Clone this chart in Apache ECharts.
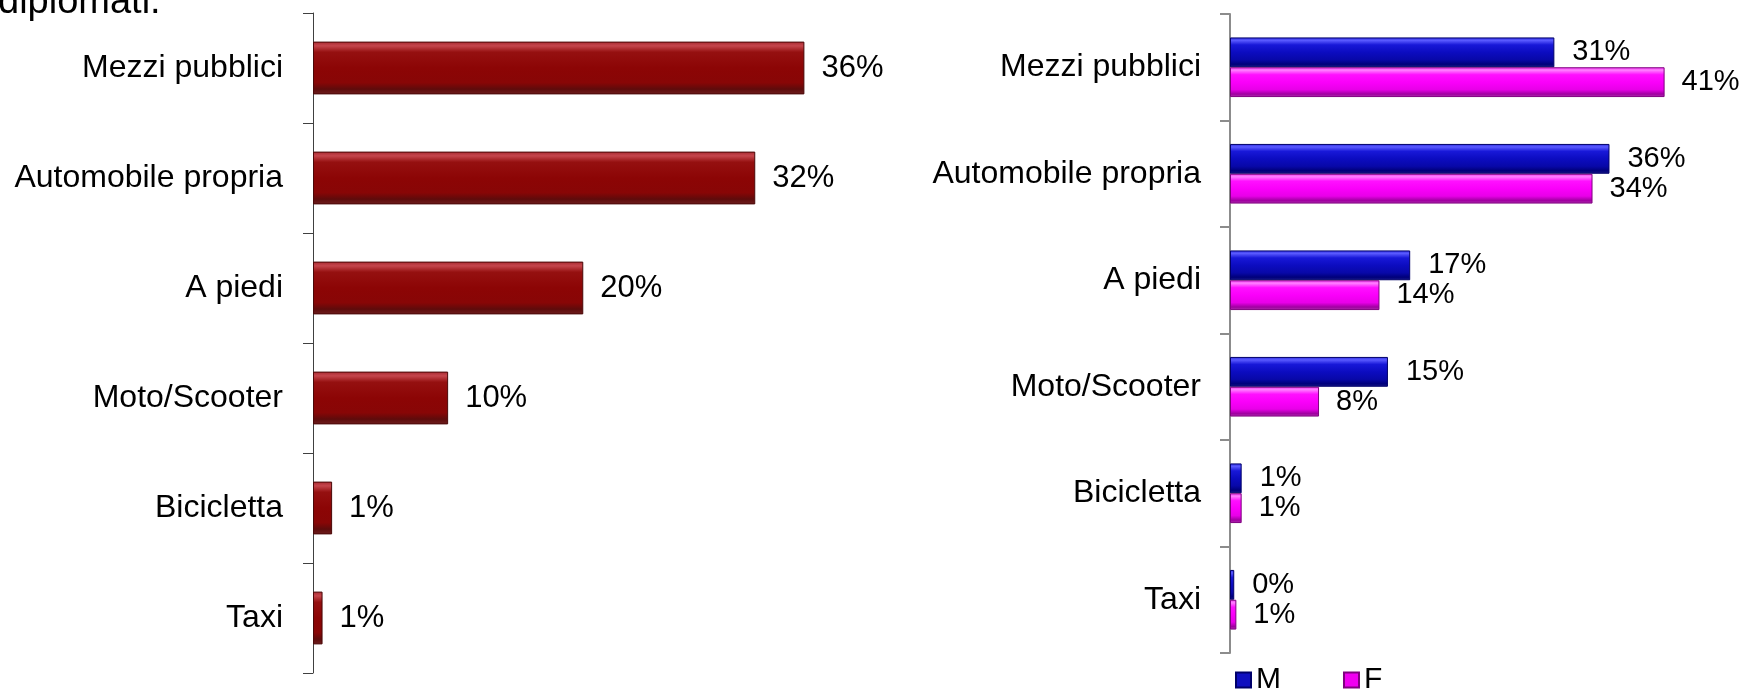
<!DOCTYPE html>
<html>
<head>
<meta charset="utf-8">
<script src="https://cdn.jsdelivr.net/npm/echarts@6/dist/echarts.min.js"></script>
<style>
html,body{margin:0;padding:0;background:#fff;}
#main{width:1744px;height:689px;}
</style>
</head>
<body>
<div id="main"></div>
<script>
// ---- data ----
var categories = ['Mezzi pubblici', 'Automobile propria', 'A piedi', 'Moto/Scooter', 'Bicicletta', 'Taxi'];
var totale = [36.0, 32.4, 19.8, 9.9, 1.4, 0.7];
var maschi = [30.6, 35.8, 17.0, 14.9, 1.1, 0.4];
var femmine = [41.0, 34.2, 14.1, 8.4, 1.1, 0.6];
var seriesNames = ['M', 'F'];
var titleText = 'diplomati.';

var FONT = "'Liberation Sans', Arial, sans-serif";

function grad(stops) {
  return new echarts.graphic.LinearGradient(0, 0, 0, 1, stops.map(function (s) {
    return { offset: s[0], color: s[1] };
  }));
}
var redFill = grad([[0, '#a82a30'], [0.08, '#c5454c'], [0.2, '#951010'], [0.5, '#8c0505'], [0.78, '#880606'], [0.9, '#5e0b0b'], [1, '#6e1e1e']]);
var blueFill = grad([[0, '#2a2ae0'], [0.1, '#5a5aff'], [0.25, '#1818d8'], [0.5, '#0c0cc0'], [0.75, '#0808a8'], [0.9, '#00007a'], [1, '#1a1a8a']]);
var pinkFill = grad([[0, '#f030f0'], [0.1, '#ff80ff'], [0.25, '#ff10ff'], [0.5, '#fa00fa'], [0.75, '#e800e8'], [0.9, '#a000a0'], [1, '#b030b0']]);

function pct(p) { return Math.round(p.value) + '%'; }

var option = {
  animation: false,
  backgroundColor: '#ffffff',
  textStyle: { fontFamily: FONT },
  graphic: [{
    type: 'text', left: -2, top: -16,
    style: { text: titleText, font: '38px ' + FONT, fill: '#000' }
  }],
  legend: {
    data: seriesNames.map(function (n, i) { return { name: n, icon: 'rect', itemStyle: { color: i === 0 ? '#1010c0' : '#f000f0' } }; }),
    left: 1230, top: 660,
    itemWidth: 15, itemHeight: 15, itemGap: 62,
    textStyle: { fontSize: 30, color: '#000', fontFamily: FONT }
  },
  grid: [
    { left: 313, top: 13, width: 546, height: 660 },
    { left: 1230, top: 14, width: 477, height: 639 }
  ],
  xAxis: [
    { gridIndex: 0, type: 'value', min: 0, max: 40, show: false },
    { gridIndex: 1, type: 'value', min: 0, max: 45, show: false }
  ],
  yAxis: [
    {
      gridIndex: 0, type: 'category', data: categories, inverse: true,
      axisLine: { show: true, lineStyle: { color: '#404040', width: 1 } },
      axisTick: { show: true, length: 10, lineStyle: { color: '#404040' } },
      axisLabel: { fontSize: 32, color: '#000', margin: 30, fontFamily: FONT, padding: [5, 0, 0, 0] },
      splitLine: { show: false }
    },
    {
      gridIndex: 1, type: 'category', data: categories, inverse: true,
      axisLine: { show: true, lineStyle: { color: '#8c8c8c', width: 2 } },
      axisTick: { show: true, length: 10, lineStyle: { color: '#8c8c8c', width: 2 } },
      axisLabel: { fontSize: 32, color: '#000', margin: 29, fontFamily: FONT, padding: [5, 0, 0, 0] },
      splitLine: { show: false }
    }
  ],
  series: [
    {
      name: 'Totale', type: 'bar', xAxisIndex: 0, yAxisIndex: 0,
      data: totale, barCategoryGap: '52%',
      itemStyle: { color: redFill, borderColor: '#4a0808', borderWidth: 1 },
      label: { show: true, position: 'right', distance: 17, fontSize: 31, color: '#000', fontFamily: FONT, formatter: pct }
    },
    {
      name: seriesNames[0], type: 'bar', xAxisIndex: 1, yAxisIndex: 1,
      data: maschi, barCategoryGap: '44%', barGap: '0%',
      itemStyle: { color: blueFill, borderColor: '#00006a', borderWidth: 1 },
      label: { show: true, position: 'right', distance: 18, fontSize: 29, color: '#000', fontFamily: FONT, formatter: pct }
    },
    {
      name: seriesNames[1], type: 'bar', xAxisIndex: 1, yAxisIndex: 1,
      data: femmine, barCategoryGap: '44%', barGap: '0%',
      itemStyle: { color: pinkFill, borderColor: '#800080', borderWidth: 1 },
      label: { show: true, position: 'right', distance: 17, fontSize: 29, color: '#000', fontFamily: FONT, formatter: pct }
    }
  ]
};

var chart = echarts.init(document.getElementById('main'), null, { renderer: 'canvas' });
chart.setOption(option);
</script>
</body>
</html>
